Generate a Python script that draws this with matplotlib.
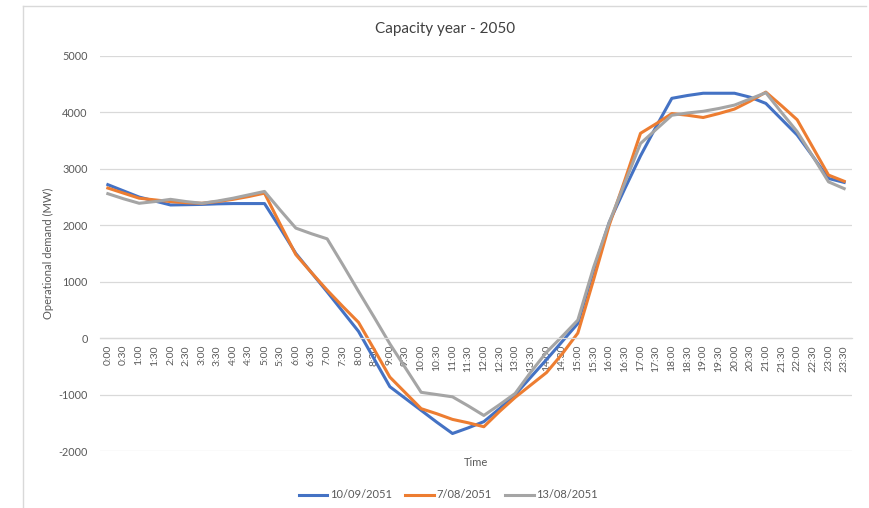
import matplotlib
matplotlib.use("Agg")
import matplotlib.pyplot as plt
from matplotlib.lines import Line2D
import numpy as np

plt.rcParams["font.family"] = ["Lato", "DejaVu Sans"]
plt.rcParams["axes.unicode_minus"] = False

TIMES = [f"{h}:{m:02d}" for h in range(24) for m in (0, 30)]

# operational demand (MW), half-hourly
DEMAND_1009 = [2720, 2610, 2500, 2430, 2360, 2365, 2370, 2380, 2385, 2385,
               2385, 1950, 1500, 1160, 820, 470, 120, -370, -860, -1070,
               -1280, -1490, -1690, -1590, -1480, -1250, -1000, -690, -380, -60,
               260, 1200, 2050, 2650, 3230, 3750, 4250, 4300, 4340, 4340,
               4340, 4270, 4160, 3880, 3600, 3220, 2830, 2760]
DEMAND_0708 = [2660, 2570, 2480, 2450, 2420, 2400, 2390, 2420, 2460, 2510,
               2570, 2020, 1480, 1160, 850, 560, 280, -200, -690, -970,
               -1250, -1340, -1440, -1500, -1570, -1300, -1050, -830, -610, -280,
               90, 1030, 2000, 2800, 3630, 3800, 3980, 3950, 3910, 3980,
               4060, 4200, 4360, 4120, 3870, 3380, 2890, 2780]
DEMAND_1308 = [2560, 2470, 2390, 2420, 2460, 2420, 2390, 2430, 2480, 2540,
               2600, 2270, 1950, 1850, 1760, 1300, 830, 370, -100, -530,
               -960, -1000, -1040, -1200, -1370, -1180, -980, -600, -250, 30,
               320, 1250, 2050, 2750, 3450, 3700, 3950, 3990, 4020, 4070,
               4130, 4240, 4350, 4000, 3660, 3220, 2770, 2650]

SERIES = [("10/09/2051", DEMAND_1009, "#4472C4"),
          ("7/08/2051", DEMAND_0708, "#ED7D31"),
          ("13/08/2051", DEMAND_1308, "#A5A5A5")]

TXT = "#595959"
GRID = "#D9D9D9"

fig = plt.figure(figsize=(8.69, 5.08), dpi=100)
ax = fig.add_axes([100 / 869, 1 - 451 / 508, 752 / 869, 395 / 508])

x = np.arange(len(TIMES))
for name, vals, col in SERIES:
    ax.plot(x, vals, color=col, lw=2.2, label=name, solid_joinstyle="round")

ax.set_xlim(-0.5, len(TIMES) - 0.5)
ax.set_ylim(-2000, 5000)
ax.set_yticks(range(-2000, 5001, 1000))
ax.yaxis.grid(True, color=GRID, lw=0.9)
ax.set_axisbelow(True)

for s in ("top", "right", "left"):
    ax.spines[s].set_visible(False)
ax.spines["bottom"].set_position(("data", 0))
ax.spines["bottom"].set_color(GRID)
ax.spines["bottom"].set_linewidth(0.9)

ax.set_xticks(x)
ax.set_xticklabels(TIMES, rotation=90, fontsize=7.5, color=TXT)
ax.tick_params(axis="x", length=0, pad=5)
ax.tick_params(axis="y", length=0, pad=9, labelsize=7.8, labelcolor=TXT)

ax.set_ylabel("Operational demand (MW)", fontsize=8, color=TXT, labelpad=3)
ax.text(0.5, -0.015, "Time", transform=ax.transAxes, ha="center", va="top",
        fontsize=8, color=TXT)
fig.text(445 / 869, 1 - 29 / 508, "Capacity year - 2050", ha="center",
         va="center", fontsize=11, color="#404040")

fig.legend(loc="center", bbox_to_anchor=(448 / 869, 1 - 495 / 508), ncol=3,
           frameon=False, fontsize=8, handlelength=2.6, handletextpad=0.2,
           columnspacing=1.2, labelcolor=TXT)

# chart frame
fig.add_artist(Line2D([23 / 869, 866 / 869], [1 - 6 / 508] * 2, color="#D9D9D9", lw=1))
fig.add_artist(Line2D([23 / 869] * 2, [1 - 6 / 508, 0], color="#D9D9D9", lw=1))

fig.savefig("out.png", dpi=100)
